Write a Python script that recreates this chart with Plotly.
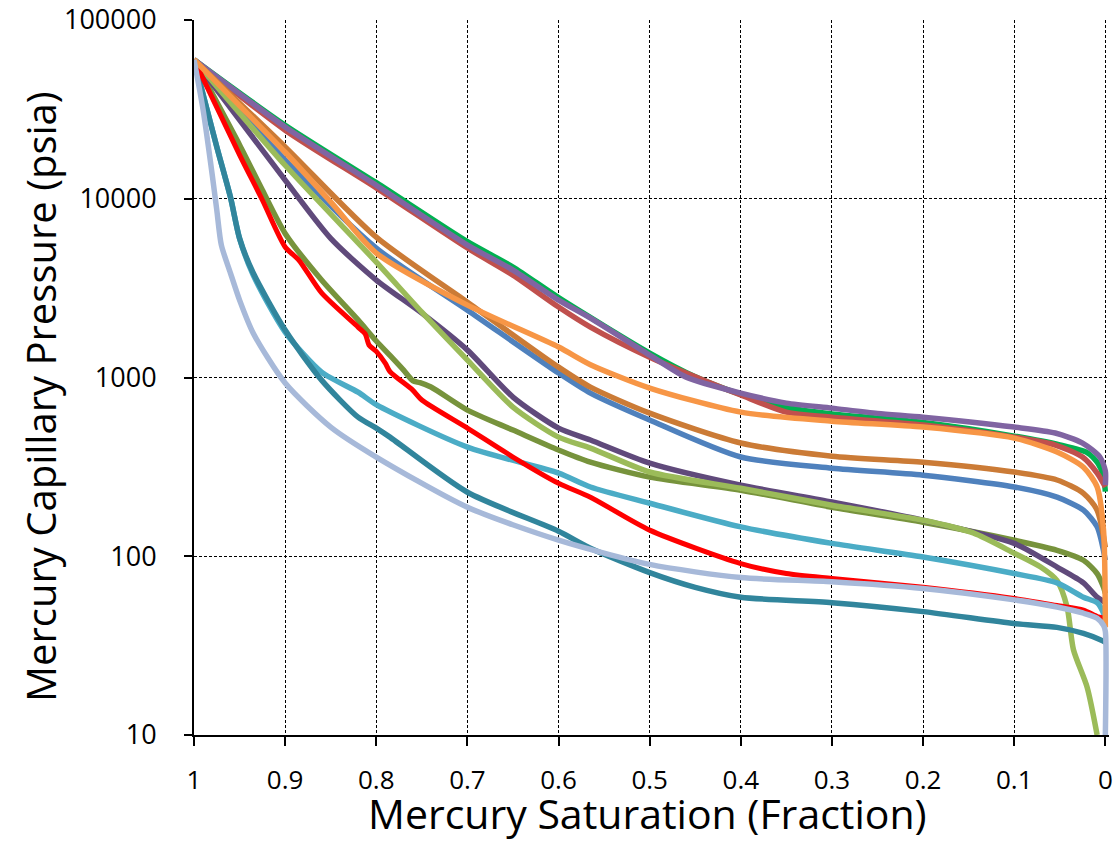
import plotly.graph_objects as go

# ---- data (Mercury saturation fraction vs capillary pressure, psia) ----
sat_green = [1, 0.9, 0.8, 0.7, 0.65, 0.6, 0.5, 0.45, 0.4, 0.35, 0.3, 0.2, 0.1, 0.05, 0.02, 0.008, 0.002, 0]
pc_green = [60000, 25800, 12300, 5750, 4150, 2800, 1370, 1010, 805, 680, 625, 560, 470, 420, 380, 330, 280, 230]

sat_redbrown = [1, 0.9, 0.8, 0.7, 0.65, 0.6, 0.565, 0.5, 0.4, 0.35, 0.3, 0.2, 0.1, 0.055, 0.025, 0.009, 0]
pc_redbrown = [60000, 24200, 11500, 5300, 3740, 2480, 1915, 1300, 798, 640, 600, 542, 464, 419, 359, 292, 244]

sat_purple = [1, 0.9, 0.8, 0.7, 0.65, 0.6, 0.565, 0.5, 0.46, 0.4, 0.35, 0.3, 0.25, 0.2, 0.1, 0.055, 0.025, 0.006, 0, 0]
pc_purple = [60000, 25200, 11900, 5510, 3990, 2710, 2150, 1335, 1005, 818, 719, 674, 630, 600, 528, 489, 430, 359, 300, 250]

sat_blue = [1, 0.9, 0.8, 0.7, 0.6, 0.565, 0.5, 0.4, 0.3, 0.2, 0.1, 0.053, 0.024, 0.009, 0]
pc_blue = [60000, 16500, 5300, 2380, 1059, 818, 578, 359, 311, 284, 244, 214, 181, 146, 95]

sat_brown = [1, 0.9, 0.8, 0.7, 0.6, 0.565, 0.5, 0.4, 0.3, 0.2, 0.1, 0.053, 0.024, 0.009, 0]
pc_brown = [60000, 19500, 6100, 2640, 1143, 884, 632, 430, 363, 336, 296, 267, 225, 181, 112]

sat_olive = [1, 0.95, 0.925, 0.9, 0.86, 0.82, 0.8, 0.785, 0.77, 0.76, 0.752, 0.74, 0.7, 0.65, 0.6, 0.565,
             0.5, 0.4, 0.3, 0.2, 0.1, 0.053, 0.024, 0.009, 0.002, 0]
pc_olive = [60000, 20000, 11200, 6400, 3510, 2100, 1600, 1330, 1100, 960, 935, 884, 657, 508, 393, 336,
            277, 234, 188, 155, 123, 108, 95, 80, 67, 62]

sat_darkpurple = [1, 0.9, 0.85, 0.8, 0.75, 0.7, 0.65, 0.6, 0.565, 0.5, 0.4, 0.3, 0.2, 0.1, 0.053, 0.024, 0.009, 0]
pc_darkpurple = [60000, 12700, 6000, 3510, 2290, 1423, 777, 521, 447, 332, 250, 201, 159, 118, 87, 71, 59, 55]

sat_lightgreen = [1, 0.9, 0.8, 0.75, 0.7, 0.65, 0.6, 0.565, 0.5, 0.4, 0.3, 0.2, 0.145, 0.1, 0.071, 0.053,
                  0.042, 0.035, 0.02, 0.009]
pc_lightgreen = [60000, 15400, 4420, 2320, 1251, 683, 464, 403, 296, 240, 193, 159, 135, 104, 87, 73,
                 52, 30, 18.5, 10]

sat_cyan = [1, 0.975, 0.96, 0.95, 0.935, 0.9, 0.86, 0.82, 0.8, 0.7, 0.6, 0.565, 0.5, 0.4, 0.3,
            0.2, 0.1, 0.053, 0.024, 0.009, 0.002, 0]
pc_cyan = [60000, 19500, 10200, 6000, 3740, 1795, 1072, 828, 705, 408, 292, 244, 198, 146, 118,
           99, 80, 71, 59, 55, 48, 44]

sat_teal = [1, 0.975, 0.96, 0.95, 0.935, 0.9, 0.86, 0.82, 0.8, 0.785, 0.7, 0.6, 0.565, 0.5, 0.45, 0.4,
            0.3, 0.2, 0.1, 0.053, 0.024, 0.005, 0]
pc_teal = [60000, 19500, 10200, 6000, 3840, 1842, 967, 600, 521, 464, 228, 138, 111, 81, 67, 59,
           55, 49, 42, 40, 37, 34, 33]

sat_red = [1, 0.95, 0.925, 0.9, 0.885, 0.86, 0.82, 0.812, 0.808, 0.8, 0.79, 0.785, 0.76, 0.75, 0.7, 0.65,
           0.6, 0.565, 0.5, 0.4, 0.35, 0.3, 0.2, 0.1, 0.053, 0.024, 0.009, 0.002, 0]
pc_red = [60000, 17600, 9840, 5370, 4540, 2970, 1915, 1750, 1520, 1400, 1200, 1080, 850, 748, 521, 359,
          256, 214, 140, 91, 80, 75, 67, 58, 53, 50, 46, 45, 41]

sat_orange = [1, 0.9, 0.85, 0.8, 0.7, 0.6, 0.565, 0.5, 0.4, 0.3, 0.2, 0.1, 0.053, 0.024, 0.009, 0.002, 0]
pc_orange = [60000, 18200, 9600, 4970, 2540, 1480, 1180, 873, 640, 570, 528, 458, 383, 315, 244, 140, 40]

sat_gray = [1, 0.99, 0.98, 0.975, 0.97, 0.96, 0.95, 0.935, 0.9, 0.85, 0.8, 0.7, 0.6, 0.5, 0.4, 0.3,
            0.2, 0.1, 0.053, 0.024, 0.009, 0.002, 0, 0]
pc_gray = [60000, 31400, 13600, 8650, 5510, 3840, 2710, 1770, 931, 528, 359, 188, 123, 90, 76, 72,
           66, 57, 52, 48, 45, 41, 38, 10]

x_ticks = [1, 0.9, 0.8, 0.7, 0.6, 0.5, 0.4, 0.3, 0.2, 0.1, 0]
x_ticklabels = ["1", "0.9", "0.8", "0.7", "0.6", "0.5", "0.4", "0.3", "0.2", "0.1", "0"]
y_ticks = [10, 100, 1000, 10000, 100000]
y_ticklabels = ["10", "100", "1000", "10000", "100000"]

series = [
    (sat_green, pc_green, "#00B050", 5.5),
    (sat_redbrown, pc_redbrown, "#C0504D", 5.5),
    (sat_purple, pc_purple, "#8064A2", 5.5),
    (sat_blue, pc_blue, "#4F81BD", 5.5),
    (sat_brown, pc_brown, "#CB7B36", 5.5),
    (sat_olive, pc_olive, "#77933C", 5.5),
    (sat_darkpurple, pc_darkpurple, "#604A7B", 5.5),
    (sat_lightgreen, pc_lightgreen, "#9BBB59", 5.5),
    (sat_cyan, pc_cyan, "#4BACC6", 5.5),
    (sat_teal, pc_teal, "#31859C", 5.5),
    (sat_red, pc_red, "#FF0000", 5),
    (sat_orange, pc_orange, "#F79646", 5.5),
    (sat_gray, pc_gray, "#A7B9D9", 5.5),
]

fig = go.Figure()
for sx, py, col, w in series:
    fig.add_trace(go.Scatter(x=sx, y=py, mode="lines",
                             line=dict(color=col, width=w, shape="spline", smoothing=0.7),
                             showlegend=False, hoverinfo="skip"))

FONT = "Open Sans, Lato, sans-serif"

fig.update_layout(
    width=1119, height=841,
    margin=dict(l=194, r=10, t=20, b=106, autoexpand=False),
    paper_bgcolor="white", plot_bgcolor="white",
    font=dict(family=FONT, color="black"),
    showlegend=False,
)

fig.update_xaxes(
    range=[1, -0.004], tickvals=x_ticks, ticktext=x_ticklabels,
    showgrid=True, gridcolor="black", gridwidth=1, griddash="3px,2px",
    showline=True, linecolor="black", linewidth=2,
    ticks="outside", ticklen=9, tickwidth=2, tickcolor="black",
    tickfont=dict(size=26, family=FONT, color="black"),
    ticklabelstandoff=12, zeroline=False, automargin=False,
)
fig.update_yaxes(
    type="log", range=[1, 5], tickvals=y_ticks, ticktext=y_ticklabels,
    showgrid=True, gridcolor="black", gridwidth=1, griddash="3px,2px",
    showline=True, linecolor="black", linewidth=2,
    ticks="outside", ticklen=8, tickwidth=2, tickcolor="black",
    tickfont=dict(size=27, family=FONT, color="black"),
    ticklabelstandoff=22, zeroline=False, automargin=False,
)

fig.add_annotation(
    text="Mercury Saturation (Fraction)", xref="paper", yref="paper",
    x=(647 - 194) / 915, y=(735 - 813) / 715, xanchor="center", yanchor="middle",
    showarrow=False, font=dict(size=41, family=FONT, color="black"),
)
fig.add_annotation(
    text="Mercury Capillary Pressure (psia)", xref="paper", yref="paper",
    x=(40 - 194) / 915, y=(735 - 397) / 715, xanchor="center", yanchor="middle",
    textangle=-90, showarrow=False, font=dict(size=40, family=FONT, color="black"),
)

fig.write_html("out.html")
